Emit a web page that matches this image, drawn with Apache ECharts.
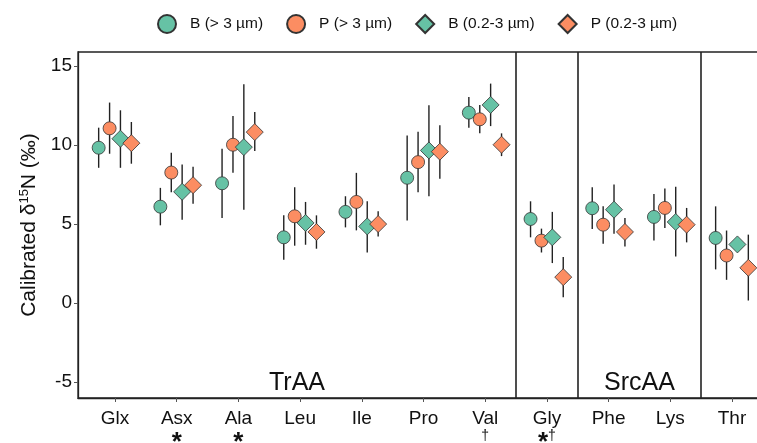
<!DOCTYPE html>
<html>
<head>
<meta charset="utf-8">
<script src="https://cdn.jsdelivr.net/npm/echarts@6/dist/echarts.min.js"></script>
<style>
	html, body { margin: 0; padding: 0; background: #fff; }
	#chart { width: 757px; height: 443px; }
</style>
</head>
<body>
<div id="chart"></div>
<script>
// amino acids and the marks printed under them
const categories = ['Glx', 'Asx', 'Ala', 'Leu', 'Ile', 'Pro', 'Val', 'Gly', 'Phe', 'Lys', 'Thr'];
const notes = ['', '*', '*', '', '', '', '†', '*†', '', '', ''];
const yTicks = [-5, 0, 5, 10, 15];

// group separators (between categories) and group titles
const groupBreaks = [7.5, 8.5, 10.5];
const groupNames = ['TrAA', 'SrcAA'];
const groupSpans = [[0.4, 7.5], [8.5, 10.5]];

const seriesNames = ['B (> 3 µm)', 'P (> 3 µm)', 'B (0.2-3 µm)', 'P (0.2-3 µm)'];

// B (> 3 um)
const b3Mean = [9.84, 6.11, 7.59, 4.17, 5.78, 7.94, 12.06, 5.33, 6.01, 5.46, 4.13];
const b3Low = [8.57, 4.93, 5.40, 2.75, 4.80, 5.23, 11.11, 4.17, 4.70, 3.97, 2.14];
const b3High = [11.11, 7.30, 9.78, 5.56, 6.77, 10.62, 13.05, 6.45, 7.34, 6.92, 6.13];
// P (> 3 um)
const p3Mean = [11.07, 8.27, 10.03, 5.50, 6.41, 8.93, 11.64, 3.96, 4.97, 6.03, 3.02];
const p3Low = [9.46, 7.02, 8.25, 3.64, 4.61, 7.02, 10.75, 3.21, 3.77, 4.76, 1.48];
const p3High = [12.70, 9.52, 11.85, 7.34, 8.25, 10.86, 12.55, 4.72, 6.13, 7.26, 4.60];
// B (0.2-3 um)
const b02Mean = [10.41, 7.05, 9.88, 5.08, 4.86, 9.67, 12.55, 4.17, 5.92, 5.14, 3.72];
const b02Low = [8.57, 5.29, 5.92, 3.70, 3.21, 6.77, 11.21, 2.54, 4.40, 2.96, 3.55];
const b02High = [12.21, 8.78, 13.86, 6.41, 6.45, 12.53, 13.90, 5.78, 7.51, 7.37, 3.90];
// P (0.2-3 um)
const p02Mean = [10.13, 7.47, 10.83, 4.51, 5.01, 9.59, 10.03, 1.65, 4.51, 4.97, 2.24];
const p02Low = [8.83, 6.29, 9.63, 3.45, 4.23, 7.87, 9.31, 0.38, 3.59, 3.85, 0.17];
const p02High = [11.47, 8.63, 12.10, 5.56, 5.82, 11.26, 10.75, 2.92, 5.40, 6.03, 4.34];

const means = [b3Mean, p3Mean, b02Mean, p02Mean];
const lows = [b3Low, p3Low, b02Low, p02Low];
const highs = [b3High, p3High, b02High, p02High];

const colors = ['#66c2a5', '#fc8d62', '#66c2a5', '#fc8d62'];
const symbols = ['circle', 'circle', 'diamond', 'diamond'];
const symbolSizes = [13, 13, 17, 17];
const dodge = [-0.265, -0.088, 0.088, 0.265];

const font = "'Liberation Sans', Arial, sans-serif";
const ink = '#111';

let chart = echarts.init(document.getElementById('chart'));

// error bars for every group, one item per point
let errData = [];
for (let s = 0; s < 4; s++) {
	for (let i = 0; i < categories.length; i++) {
		errData.push([i + 1 + dodge[s], lows[s][i], highs[s][i]]);
	}
}

let series = [{
	name: 'errors',
	type: 'custom',
	z: 1,
	silent: true,
	data: errData,
	encode: { x: 0, y: [1, 2] },
	renderItem: function(params, api) {
		let x = api.value(0);
		let a = api.coord([x, api.value(1)]);
		let b = api.coord([x, api.value(2)]);
		return {
			type: 'line',
			shape: { x1: a[0], y1: a[1], x2: b[0], y2: b[1] },
			style: { stroke: '#222', lineWidth: 1.4 }
		};
	},
	markLine: {
		silent: true,
		symbol: 'none',
		label: { show: false },
		lineStyle: { color: '#222', width: 1.6, type: 'solid' },
		data: groupBreaks.map(v => ({ xAxis: v }))
	}
}];

for (let s = 0; s < 4; s++) {
	series.push({
		name: seriesNames[s],
		type: 'scatter',
		z: 2 + s,
		symbol: symbols[s],
		symbolSize: symbolSizes[s],
		itemStyle: {
			color: colors[s],
			borderColor: '#333',
			borderWidth: 0.8,
			opacity: 1
		},
		data: means[s].map((v, i) => [i + 1 + dodge[s], v])
	});
}

// group titles near the bottom of the panel
series.push({
	name: 'groups',
	type: 'scatter',
	silent: true,
	symbolSize: 0,
	itemStyle: { opacity: 1 },
	data: groupNames.map((n, k) => ({
		name: n,
		value: [(groupSpans[k][0] + groupSpans[k][1]) / 2, -5.05]
	})),
	label: {
		show: true,
		position: 'inside',
		formatter: '{b}',
		fontFamily: font,
		fontSize: 25,
		color: ink
	}
});

let option = {
	animation: false,
	textStyle: { fontFamily: font },
	legend: {
		data: seriesNames,
		top: 9,
		left: 152,
		itemWidth: 18,
		itemHeight: 18,
		itemGap: 23,
		textStyle: { fontFamily: font, fontSize: 15.5, color: ink, padding: [0, 0, 0, 9] }
	},
	grid: {
		left: 78,
		top: 52,
		width: 691,
		height: 346,
		outerBoundsMode: 'none',
		containLabel: false,
		show: true,
		borderColor: '#222',
		borderWidth: 1.3,
		backgroundColor: '#fff'
	},
	xAxis: {
		type: 'value',
		min: 0.4,
		max: 11.6,
		splitLine: { show: false },
		axisLine: { show: true, onZero: false, lineStyle: { color: '#222', width: 1.3 } },
		axisTick: {
			show: true,
			length: 4,
			customValues: categories.map((c, i) => i + 1),
			lineStyle: { color: '#555' }
		},
		axisLabel: {
			customValues: categories.map((c, i) => i + 1),
			margin: 11,
			color: ink,
			fontFamily: font,
			fontSize: 19,
			lineHeight: 20,
			formatter: function(v) {
				let i = Math.round(v) - 1;
				let txt = categories[i];
				if (notes[i]) {
					let marks = notes[i].split('').map(ch => ch === '*' ? '{star|*}' : '{dag|†}').join('');
					txt += '\n' + marks;
				}
				return txt;
			},
			rich: {
				star: { fontSize: 26, fontWeight: 'bold', lineHeight: 28, color: ink, fontFamily: font },
				dag: { fontSize: 14, lineHeight: 21, verticalAlign: 'top', color: ink, fontFamily: font }
			}
		}
	},
	yAxis: {
		type: 'value',
		min: -6,
		max: 15.9,
		name: 'Calibrated δ{sup|15}N (‰)',
		nameLocation: 'middle',
		nameGap: 33,
		nameTextStyle: {
			fontFamily: font,
			fontSize: 21,
			color: ink,
			rich: {
				sup: { fontSize: 13, verticalAlign: 'top', lineHeight: 24, fontFamily: font, color: ink }
			}
		},
		splitLine: { show: false },
		axisLine: { show: true, onZero: false, lineStyle: { color: '#222', width: 1.3 } },
		axisTick: {
			show: true,
			length: 4,
			customValues: yTicks,
			lineStyle: { color: '#555' }
		},
		axisLabel: {
			customValues: yTicks,
			margin: 6,
			color: ink,
			fontFamily: font,
			fontSize: 19
		}
	},
	series: series
};

chart.setOption(option);
</script>
</body>
</html>
